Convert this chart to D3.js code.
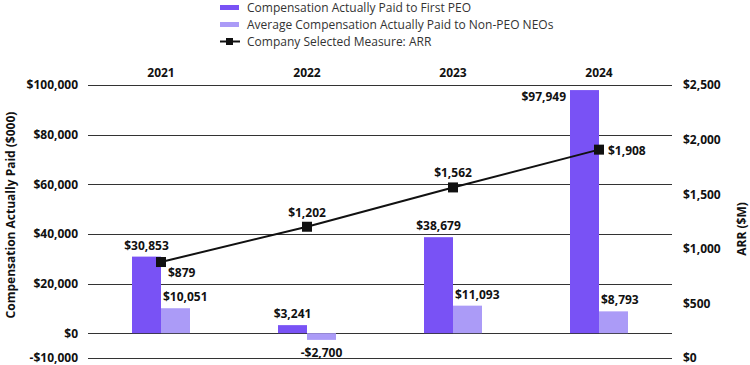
<!DOCTYPE html>
<html>
<head>
<meta charset="utf-8">
<script src="https://cdn.jsdelivr.net/npm/d3@7"></script>
<style>
  body { margin: 0; background: #fff; }
  text { font-family: "Open Sans", sans-serif; fill: #111; }
  .tick text, .val, .year, .title { font-weight: 700; }
</style>
</head>
<body>
<div id="chart"></div>
<script>
// data
var years = ['2021', '2022', '2023', '2024'];
var peoPay = [30853, 3241, 38679, 97949];
var neoPay = [10051, -2700, 11093, 8793];
var arr = [879, 1202, 1562, 1908];
var leftTicks = [-10000, 0, 20000, 40000, 60000, 80000, 100000];
var rightTicks = [0, 500, 1000, 1500, 2000, 2500];

var svgWidth = 750;
var svgHeight = 365;

var margin = { top: 85, right: 78, bottom: 7, left: 88 };
var width = svgWidth - margin.left - margin.right;
var height = svgHeight - margin.top - margin.bottom;

var darkPurple = '#7952f5';
var lightPurple = '#ab9bf7';

var svg = d3.select('#chart')
  .append('svg')
  .attr('width', svgWidth)
  .attr('height', svgHeight);

var chartGroup = svg.append('g')
  .attr('transform', `translate(${margin.left}, ${margin.top})`);

var xScale = d3.scaleBand().domain(years).range([0, width]);
var yLeft = d3.scaleLinear().domain([-10000, 100000]).range([height, 0]);
var yRight = d3.scaleLinear().domain([0, 2500]).range([height, 0]);

var barW = 29;

// gridlines
chartGroup.selectAll('.grid')
  .data(leftTicks)
  .enter()
  .append('line')
  .attr('x1', 0)
  .attr('x2', width)
  .attr('y1', (d) => Math.round(yLeft(d)) + 0.5)
  .attr('y2', (d) => Math.round(yLeft(d)) + 0.5)
  .attr('stroke', '#333')
  .attr('stroke-width', 1.2);

// left axis
var leftAxis = d3.axisLeft(yLeft)
  .tickValues(leftTicks)
  .tickSize(0)
  .tickPadding(10)
  .tickFormat((d) => (d < 0 ? '-$' : '$') + d3.format(',')(Math.abs(d)));
var gL = chartGroup.append('g').call(leftAxis);
gL.select('.domain').remove();
gL.selectAll('text').style('font-size', '12px');

// right axis
var rightAxis = d3.axisRight(yRight)
  .tickValues(rightTicks)
  .tickSize(0)
  .tickPadding(11)
  .tickFormat((d) => '$' + d3.format(',')(d));
var gR = chartGroup.append('g')
  .attr('transform', `translate(${width}, 0)`)
  .call(rightAxis);
gR.select('.domain').remove();
gR.selectAll('text').style('font-size', '12px');

// year labels on top
chartGroup.selectAll('.year')
  .data(years)
  .enter()
  .append('text')
  .attr('class', 'year')
  .attr('x', (d) => xScale(d) + xScale.bandwidth() / 2)
  .attr('y', -8)
  .attr('text-anchor', 'middle')
  .style('font-size', '12px')
  .text((d) => d);

// bars
function zeroY() { return yLeft(0); }

chartGroup.selectAll('.peo')
  .data(peoPay)
  .enter()
  .append('rect')
  .attr('x', (d, i) => xScale(years[i]) + xScale.bandwidth() / 2 - barW)
  .attr('width', barW)
  .attr('y', (d) => Math.min(yLeft(d), zeroY()))
  .attr('height', (d) => Math.abs(yLeft(d) - zeroY()))
  .attr('fill', darkPurple);

chartGroup.selectAll('.neo')
  .data(neoPay)
  .enter()
  .append('rect')
  .attr('x', (d, i) => xScale(years[i]) + xScale.bandwidth() / 2)
  .attr('width', barW)
  .attr('y', (d) => Math.min(yLeft(d), zeroY()))
  .attr('height', (d) => Math.abs(yLeft(d) - zeroY()))
  .attr('fill', lightPurple);

var money = (d) => (d < 0 ? '-$' : '$') + d3.format(',')(Math.abs(d));

// bar labels
chartGroup.selectAll('.peoLab')
  .data(peoPay)
  .enter()
  .append('text')
  .attr('class', 'val')
  .attr('x', (d, i) => {
    var c = xScale(years[i]) + xScale.bandwidth() / 2 - barW / 2;
    return i === 3 ? c - barW / 2 - 4 : c;
  })
  .attr('y', (d, i) => (i === 3 ? yLeft(d) + 11 : yLeft(d) - 7))
  .attr('text-anchor', (d, i) => (i === 3 ? 'end' : 'middle'))
  .style('font-size', '12px')
  .text(money);

chartGroup.selectAll('.neoLab')
  .data(neoPay)
  .enter()
  .append('text')
  .attr('class', 'val')
  .attr('x', (d, i) => {
    var left = xScale(years[i]) + xScale.bandwidth() / 2;
    return d < 0 ? left + barW / 2 : left + 2;
  })
  .attr('y', (d) => (d < 0 ? yLeft(d) + 17 : yLeft(d) - 7))
  .attr('text-anchor', (d) => (d < 0 ? 'middle' : 'start'))
  .style('font-size', '12px')
  .text(money);

// ARR line
var line = d3.line()
  .x((d, i) => xScale(years[i]) + xScale.bandwidth() / 2)
  .y((d) => yRight(d));

chartGroup.append('path')
  .datum(arr)
  .attr('d', line)
  .attr('fill', 'none')
  .attr('stroke', '#111')
  .attr('stroke-width', 2);

chartGroup.selectAll('.mark')
  .data(arr)
  .enter()
  .append('rect')
  .attr('x', (d, i) => xScale(years[i]) + xScale.bandwidth() / 2 - 5)
  .attr('y', (d) => yRight(d) - 5)
  .attr('width', 10)
  .attr('height', 10)
  .attr('fill', '#111');

// ARR labels: first below-right, last to the right, others above
chartGroup.selectAll('.arrLab')
  .data(arr)
  .enter()
  .append('text')
  .attr('class', 'val')
  .attr('x', (d, i) => {
    var c = xScale(years[i]) + xScale.bandwidth() / 2;
    if (i === 0) return c + 7;
    if (i === 3) return c + 9;
    return c;
  })
  .attr('y', (d, i) => {
    if (i === 0) return yRight(d) + 15;
    if (i === 3) return yRight(d) + 5;
    return yRight(d) - 10;
  })
  .attr('text-anchor', (d, i) => (i === 0 || i === 3 ? 'start' : 'middle'))
  .style('font-size', '12px')
  .text((d) => '$' + d3.format(',')(d));

// axis titles
svg.append('text')
  .attr('class', 'title')
  .attr('transform', `translate(15, 215) rotate(-90)`)
  .attr('text-anchor', 'middle')
  .style('font-size', '12px')
  .text('Compensation Actually Paid ($000)');

svg.append('text')
  .attr('class', 'title')
  .attr('transform', `translate(746, 229) rotate(-90)`)
  .attr('text-anchor', 'middle')
  .style('font-size', '12px')
  .text('ARR ($M)');

// legend
var legendItems = [
  { label: 'Compensation Actually Paid to First PEO', type: 'bar', color: darkPurple },
  { label: 'Average Compensation Actually Paid to Non-PEO NEOs', type: 'bar', color: lightPurple },
  { label: 'Company Selected Measure: ARR', type: 'line', color: '#111' }
];

var legend = svg.append('g').attr('transform', 'translate(220, 7)');
var rows = legend.selectAll('g')
  .data(legendItems)
  .enter()
  .append('g')
  .attr('transform', (d, i) => `translate(0, ${i * 17})`);

rows.filter((d) => d.type === 'bar')
  .append('rect')
  .attr('x', 0)
  .attr('y', -2)
  .attr('width', 19)
  .attr('height', 5)
  .attr('fill', (d) => d.color);

var lineRow = rows.filter((d) => d.type === 'line');
lineRow.append('line')
  .attr('x1', 0).attr('x2', 20)
  .attr('y1', 0.5).attr('y2', 0.5)
  .attr('stroke', '#111')
  .attr('stroke-width', 2);
lineRow.append('rect')
  .attr('x', 6).attr('y', -3)
  .attr('width', 7).attr('height', 7)
  .attr('fill', '#111');

rows.append('text')
  .attr('x', 27)
  .attr('y', 4.5)
  .style('font-size', '12px')
  .style('fill', '#333')
  .text((d) => d.label);
</script>
</body>
</html>
